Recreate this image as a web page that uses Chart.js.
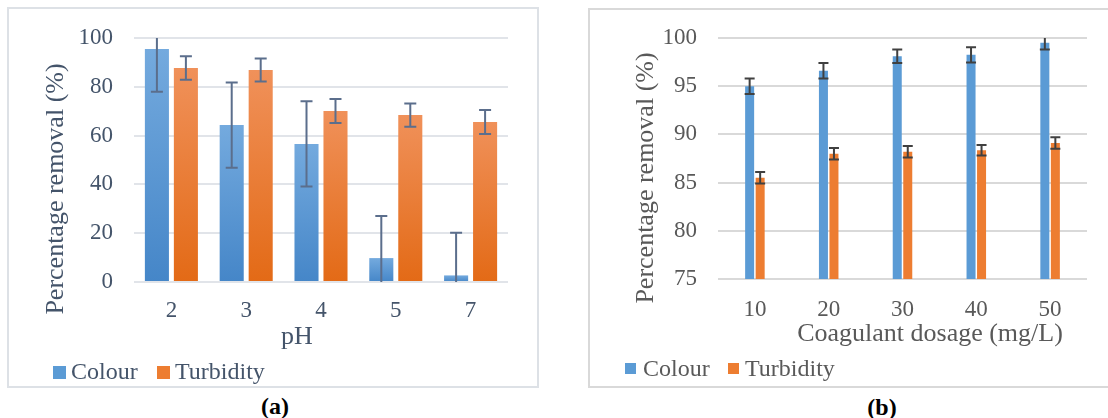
<!DOCTYPE html>
<html>
<head>
<meta charset="utf-8">
<title>Percentage removal</title>
<script src="https://cdn.jsdelivr.net/npm/chart.js@4.4.0/dist/chart.umd.min.js"></script>
<style>
body{margin:0;background:#fff;width:1108px;height:418px;overflow:hidden;position:relative;font-family:'Liberation Serif','Times New Roman',serif;}
.box{position:absolute;box-sizing:border-box;border:2px solid #dde1e6;background:#fff}
#boxA{left:7px;top:7px;width:532px;height:381px}
#boxB{left:588px;top:8px;width:540px;height:380px;border-color:#d9d9d9}
.wrap{position:absolute}
#wrapA{left:8px;top:8px;width:530px;height:379px}
#wrapB{left:589px;top:9px;width:519px;height:378px}
.cap{position:absolute;font-weight:bold;font-size:24px;color:#000;transform:translateX(-50%);line-height:1}
</style>
</head>
<body>
<div class="box" id="boxA"></div>
<div class="box" id="boxB"></div>
<div class="wrap" id="wrapA"><canvas id="chartA"></canvas></div>
<div class="wrap" id="wrapB"><canvas id="chartB"></canvas></div>
<div class="cap" style="left:275px;top:394px">(a)</div>
<div class="cap" style="left:882px;top:395px">(b)</div>
<script>
// (a) effect of pH
var phLabels=['2','3','4','5','7'];
var colourPH=[95.5,64.3,56.6,9.8,2.7];
var colourPHErr=[17.5,17.5,17.5,17.2,17.5];
var turbPH=[87.7,86.9,70.1,68.4,65.6];
var turbPHErr=[4.8,4.7,4.9,4.8,4.9];

// (b) effect of coagulant dosage
var doseLabels=['10','20','30','40','50'];
var colourDose=[95.0,96.6,98.1,98.25,99.5];
var colourDoseErr=[0.8,0.8,0.7,0.8,0.7];
var turbDose=[85.5,88.0,88.2,88.35,89.1];
var turbDoseErr=[0.6,0.6,0.6,0.55,0.6];

var serif="'Liberation Serif','Times New Roman',serif";

// error bars, clipped to the plot area like the original
var errorBarPlugin={
    id:'errorBars',
    afterDatasetsDraw:function(chart,args,opts){
        var ctx=chart.ctx;
        var area=chart.chartArea;
        var ys=chart.scales.y;
        ctx.save();
        ctx.strokeStyle=opts.color;
        ctx.lineWidth=opts.width;
        chart.data.datasets.forEach(function(ds,i){
            var meta=chart.getDatasetMeta(i);
            meta.data.forEach(function(bar,j){
                var v=ds.data[j];
                var e=ds.errors[j];
                var top=ys.getPixelForValue(v+e);
                var bot=ys.getPixelForValue(v-e);
                var capTop=top>=area.top;
                var capBot=bot<=area.bottom;
                top=Math.max(top,area.top);
                bot=Math.min(bot,area.bottom);
                var h=opts.cap/2;
                ctx.beginPath();
                ctx.moveTo(bar.x,top);
                ctx.lineTo(bar.x,bot);
                if(capTop){ctx.moveTo(bar.x-h,top);ctx.lineTo(bar.x+h,top);}
                if(capBot){ctx.moveTo(bar.x-h,bot);ctx.lineTo(bar.x+h,bot);}
                ctx.stroke();
            });
        });
        ctx.restore();
    }
};

// axis titles and legend placed where the original has them
var textPlugin={
    id:'chartText',
    afterDraw:function(chart,args,opts){
        var ctx=chart.ctx;
        ctx.save();
        ctx.fillStyle=opts.color;
        ctx.textBaseline='alphabetic';
        ctx.textAlign='center';
        ctx.font=opts.titleFont;
        opts.titles.forEach(function(t){
            ctx.save();
            ctx.translate(t.x,t.y);
            if(t.rotate) ctx.rotate(t.rotate);
            ctx.fillText(t.text,0,0);
            ctx.restore();
        });
        ctx.font=opts.legendFont;
        ctx.textAlign='left';
        chart.data.datasets.forEach(function(ds,i){
            var it=opts.legend[i];
            ctx.fillStyle=ds.legendColor;
            ctx.fillRect(it.box,opts.boxY,opts.boxSize,opts.boxSize);
            ctx.fillStyle=opts.color;
            ctx.fillText(ds.label,it.text,opts.textY);
        });
        ctx.restore();
    }
};

function barGradient(top,bottom){
    return function(c){
        var chart=c.chart;
        if(!chart.chartArea||!c.parsed) return bottom;
        var ys=chart.scales.y;
        var y0=ys.getPixelForValue(c.parsed.y);
        var y1=ys.getPixelForValue(ys.min);
        if(!isFinite(y0)||!isFinite(y1)||y0===y1) return bottom;
        var g=chart.ctx.createLinearGradient(0,y0,0,y1);
        g.addColorStop(0,top);
        g.addColorStop(1,bottom);
        return g;
    };
}

function makeConfig(o){
    return {
        type:'bar',
        data:{
            labels:o.labels,
            datasets:[
                {label:'Colour',data:o.colour,errors:o.colourErr,backgroundColor:o.blue,legendColor:o.blueKey,
                 categoryPercentage:o.catPct,barPercentage:o.barPct},
                {label:'Turbidity',data:o.turb,errors:o.turbErr,backgroundColor:o.orange,legendColor:o.orangeKey,
                 categoryPercentage:o.catPct,barPercentage:o.barPct}
            ]
        },
        options:{
            responsive:true,
            maintainAspectRatio:false,
            animation:false,
            layout:{padding:{left:0,top:o.padTop,right:o.padRight,bottom:0}},
            scales:{
                x:{
                    grid:{display:false},
                    border:{display:false},
                    ticks:{color:o.textColor,font:{family:serif,size:23},padding:o.xTickPad},
                    afterFit:function(s){s.height=o.xHeight;}
                },
                y:{
                    min:o.min,max:o.max,
                    // invisible tick marks keep the labels 21px off the plot
                    grid:{color:o.gridColor,lineWidth:2,drawTicks:true,tickLength:21,tickColor:'rgba(0,0,0,0)'},
                    border:{display:false},
                    ticks:{stepSize:o.step,color:o.textColor,font:{family:serif,size:23},padding:0},
                    afterFit:function(s){s.width=o.yWidth;}
                }
            },
            plugins:{
                legend:{display:false},
                tooltip:{enabled:false},
                errorBars:{color:o.errColor,width:2,cap:o.cap},
                chartText:{
                    color:o.textColor,
                    titleFont:'26px '+serif,
                    legendFont:'24px '+serif,
                    titles:o.titles,
                    legend:o.legend,
                    boxY:o.boxY,boxSize:o.boxSize,textY:o.textY
                }
            }
        },
        plugins:[errorBarPlugin,textPlugin]
    };
}

new Chart(document.getElementById('chartA'),makeConfig({
    labels:phLabels,
    colour:colourPH,colourErr:colourPHErr,
    turb:turbPH,turbErr:turbPHErr,
    blue:barGradient('#74aade','#4586c8'),
    orange:barGradient('#f0915a','#e36a16'),
    blueKey:'#5b9bd5',orangeKey:'#ed7d31',
    catPct:0.775,barPct:0.83,
    padTop:30,padRight:30,xHeight:105,yWidth:126,xTickPad:7,
    min:0,max:100,step:20,
    textColor:'#44546a',gridColor:'#e1e4e9',
    errColor:'#5b6e8c',cap:12,
    titles:[
        {text:'Percentage removal (%)',x:55,y:181,rotate:-Math.PI/2},
        {text:'pH',x:289,y:336}
    ],
    legend:[{box:45,text:63},{box:149,text:167}],
    boxY:358,boxSize:13,textY:371
}));

new Chart(document.getElementById('chartB'),makeConfig({
    labels:doseLabels,
    colour:colourDose,colourErr:colourDoseErr,
    turb:turbDose,turbErr:turbDoseErr,
    blue:'#5b9bd5',orange:'#ed7d31',
    blueKey:'#5b9bd5',orangeKey:'#ed7d31',
    catPct:0.285,barPct:0.857,
    padTop:29,padRight:21,xHeight:108,yWidth:129,xTickPad:9,
    min:75,max:100,step:5,
    textColor:'#595959',gridColor:'#d9d9d9',
    errColor:'#404040',cap:10,
    titles:[
        {text:'Percentage removal (%)',x:64,y:169,rotate:-Math.PI/2},
        {text:'Coagulant dosage (mg/L)',x:341,y:332}
    ],
    legend:[{box:36,text:54},{box:139,text:156}],
    boxY:354,boxSize:11,textY:367
}));
</script>
</body>
</html>
